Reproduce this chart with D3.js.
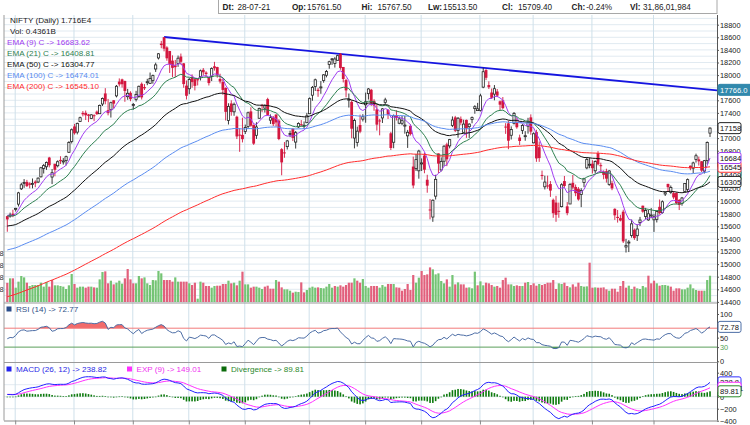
<!DOCTYPE html>
<html>
<head>
<meta charset="utf-8">
<script src="https://cdn.jsdelivr.net/npm/d3@7"></script>
<style>
  body { margin: 0; background: #fff; }
  svg text { font-family: "Liberation Sans", Arial, sans-serif; }
</style>
</head>
<body>
<div id="chart"></div>
<script>
// NIFTY daily, 28-07-21 .. 29-07-22
const tradingDays = [
  ["07-21", "28 29 30"],
  ["08-21", "02 03 04 05 06 09 10 11 12 13 16 17 18 20 23 24 25 26 27 30 31"],
  ["09-21", "01 02 03 06 07 08 09 13 14 15 16 17 20 21 22 23 24 27 28 29 30"],
  ["10-21", "01 04 05 06 07 08 11 12 13 14 18 19 20 21 22 25 26 27 28 29"],
  ["11-21", "01 02 03 04 08 09 10 11 12 15 16 17 18 22 23 24 25 26 29 30"],
  ["12-21", "01 02 03 06 07 08 09 10 13 14 15 16 17 20 21 22 23 24 27 28 29 30 31"],
  ["01-22", "03 04 05 06 07 10 11 12 13 14 17 18 19 20 21 24 25 27 28 31"],
  ["02-22", "01 02 03 04 07 08 09 10 11 14 15 16 17 18 21 22 23 24 25 28"],
  ["03-22", "02 03 04 07 08 09 10 11 14 15 16 17 21 22 23 24 25 28 29 30 31"],
  ["04-22", "01 04 05 06 07 08 11 12 13 18 19 20 21 22 25 26 27 28 29"],
  ["05-22", "02 04 05 06 09 10 11 12 13 16 17 18 19 20 23 24 25 26 27 30 31"],
  ["06-22", "01 02 03 06 07 08 09 10 13 14 15 16 17 20 21 22 23 24 27 28 29 30"],
  ["07-22", "01 04 05 06 07 08 11 12 13 14 15 18 19 20 21 22 25 26 27 28 29"]
];

// [open, high, low, close]
const ohlc = [
  [15761.5,15767.5,15513.5,15709.4],[15762,15817,15737,15778.45],[15800,15862.8,15744.85,15763.05],
  // Aug 21
  [15874.9,15892.9,15834.65,15885.15],[15951.55,16146.9,15914.35,16130.75],[16195.25,16290.2,16176.15,16258.8],
  [16288.9,16349.45,16210.3,16294.6],[16304.4,16336.75,16223.3,16238.2],[16281,16299,16202,16258.25],
  [16274,16359,16202,16280.1],[16309,16330,16220,16282.25],[16303,16376,16286,16364.4],
  [16385,16543,16376,16529.1],[16518,16589,16438,16563.05],[16545,16628,16495,16614.6],
  [16691,16701.85,16535,16568.85],[16382,16509,16270,16450.5],[16592,16592,16395,16496.45],
  [16561,16647,16535,16624.6],[16654,16712,16589,16634.65],[16627,16683,16580,16636.9],
  [16642,16722,16565,16705.2],[16775,16951,16764,16931.05],[16947,17153,16915,17132.2],
  // Sep 21
  [17185,17225,17055,17076.25],[17095,17245,17059,17234.15],[17262,17340,17255,17323.6],
  [17400,17429,17345,17377.8],[17401,17437,17287,17362.1],[17375,17383,17254,17353.5],
  [17312,17379,17302,17369.25],[17363,17378,17269,17355.3],[17420,17438,17368,17380],
  [17387,17532,17386,17519.45],[17541,17644,17510,17629.5],[17709,17792.95,17537,17585.15],
  [17443,17622,17361,17396.9],[17450,17578,17326,17562],[17600,17603,17472,17546.65],
  [17670,17843,17646,17822.95],[17897,17947.65,17819,17853.2],[17932,17943,17802,17855.1],
  [17906,17912,17576,17748.6],[17657,17781,17608,17711.3],[17719,17743,17585,17618.15],
  // Oct 21
  [17531,17557,17452,17532.05],[17615,17750,17581,17691.25],[17661,17833,17640,17822.3],
  [17862,17884,17613,17646],[17810,17857,17763,17790.35],[17886,17941,17840,17895.2],
  [17867,18041,17865,17945.95],[17915,18008,17864,17991.95],[18097,18197,18050,18161.75],
  [18272,18350,18248,18338.55],[18500,18543,18426,18477.05],[18602,18604.45,18377,18418.75],
  [18439,18458,18228,18266.6],[18382,18384,18034,18178.1],[18230,18314,17969,18114.9],
  [18154,18241,17968,18125.4],[18183,18310,18131,18268.4],[18295,18342,18167,18210.95],
  [18187,18190,17799,17857.25],[17833,17915,17613,17671.65],
  // Nov 21
  [17783,17954,17697,17929.65],[17970,18012,17800,17888.95],[17935,17947,17757,17829.2],
  [17935,17947,17836,17916.8],[17974,18087,17915,18068.55],[18084,18112,17994,18044.25],
  [18040,18061,17968,18017.2],[17967,17971,17835,17873.6],[17977,18123,17905,18102.75],
  [18140,18210,18071,18109.45],[18127,18132,17959,17999.2],[17939,18022,17867,17898.65],
  [17890,17945,17688,17764.8],[17796,17805,17280,17416.55],[17281,17553,17216,17503.35],
  [17550,17600,17355,17415.05],[17417,17564,17354,17536.25],[17339,17355,16985,17026.45],
  [17055,17160,16782,17053.95],[17051,17324,16931,16983.2],
  // Dec 21
  [17104,17214,17065,17166.9],[17183,17420,17150,17401.65],[17424,17490,17180,17196.7],
  [17209,17216,16892,16912.25],[17044,17252,16987,17176.7],[17315,17484,17308,17469.75],
  [17524,17543,17412,17516.85],[17476,17534,17406,17511.3],[17619,17640,17355,17368.25],
  [17284,17376,17225,17324.9],[17324,17351,17192,17221.4],[17373,17379,17184,17248.4],
  [17277,17298,16967,16985.2],[16824,16840,16410,16614.2],[16773,16937,16688,16770.85],
  [16865,16971,16819,16955.45],[17066,17118,17015,17072.6],[17149,17155,16953,17003.75],
  [16937,17112,16834,17086.25],[17177,17250,17162,17233.25],[17220,17286,17186,17213.6],
  [17202,17264,17146,17203.95],[17244,17400,17238,17354.05],
  // Jan 22
  [17387,17646,17383,17625.7],[17681,17827,17593,17805.25],[17820,17944,17748,17925.25],
  [17768,17797,17655,17745.9],[17797,17905,17704,17812.7],[17913,18017,17879,18003.3],
  [17997,18081,17964,18055.75],[18170,18228,18101,18212.35],[18257,18272,18163,18257.8],
  [18185,18286,18119,18255.75],[18235,18322,18228,18308.1],[18337,18350.95,18085,18113.05],
  [18129,18129,17884,17938.4],[17921,17943,17648,17757],[17613,17707,17485,17617.15],
  [17575,17599,16997,17149.1],[17001,17309,16837,17277.95],[16929,17182,16866,17110.15],
  [17208,17373,17077,17101.95],[17301,17380,17264,17339.85],
  // Feb 22
  [17529,17722,17244,17576.85],[17706,17794,17612,17780],[17767,17781,17511,17560.2],
  [17591,17617,17433,17516.3],[17456,17536,17119,17213.6],[17280,17306,17044,17266.75],
  [17320,17477,17240,17463.8],[17568,17640,17537,17605.85],[17451,17454,17303,17374.75],
  [17076,17099,16810,16842.8],[16934,17375,16839,17352.45],[17367,17442,17279,17322.2],
  [17236,17344,17220,17304.6],[17235,17351,17206,17276.3],[17193,17351,17070,17206.65],
  [17036,17130,16844,17092.2],[17194,17220,17041,17063.25],[16548,16706,16203,16247.95],
  [16515,16748,16478,16658.4],[16481,16815,16356,16793.9],
  // Mar 22
  [16593,16678,16478,16605.95],[16723,16768,16442,16498.05],[16339,16418,16133,16245.35],
  [15867,16034,15711,15863.15],[15747,16028,15671,16013.45],[16079,16418,16025,16345.35],
  [16757,16757,16447,16594.9],[16494,16694,16470,16630.45],[16633,16887,16555,16871.3],
  [16900,16927,16555,16663],[16876,16987,16837,16975.35],[17202,17344,17175,17287.05],
  [17329,17353,17096,17117.6],[17121,17334,17006,17315.5],[17305,17343,17209,17245.65],
  [17092,17292,17091,17222.75],[17289,17294,17004,17153],[17181,17235,17003,17222],
  [17297,17343,17235,17325.3],[17468,17522,17387,17498.25],[17436,17559,17435,17464.75],
  // Apr 22
  [17437,17704,17422,17670.45],[17809,18114.65,17792,18053.4],[18080,18095,17921,17957.4],
  [17842,17901,17779,17807.65],[17723,17787,17623,17639.55],[17698,17842,17600,17784.35],
  [17740,17779,17650,17674.95],[17584,17596,17442,17530.3],[17599,17652,17458,17475.65],
  [17183,17237,17067,17173.65],[17234,17275,16824,16958.65],[17045,17186,16978,17136.55],
  [17235,17414,17216,17392.6],[17242,17315,17149,17171.95],[17009,17055,16889,16953.95],
  [17121,17223,17064,17200.8],[17034,17110,16958,17038.4],[17189,17322,17071,17245.05],
  [17329,17377,17053,17102.55],
  // May 22
  [16925,17092,16917,17069.1],[17096,17132,16623,16677.6],[16855,16946,16623,16682.65],
  [16415,16484,16340,16411.25],[16227,16404,16185,16301.85],[16248,16404,16197,16240.05],
  [16270,16318,16067,16167.1],[16021,16041,15735,15808],[15977,16083,15671,15782.15],
  [15845,15977,15735,15842.3],[15912,16284,15900,16259.3],[16318,16399,16211,16240.3],
  [15917,15984,15775,15809.4],[15954,16284,15954,16266.15],[16290,16415,16185,16214.7],
  [16225,16263,16078,16125.15],[16196,16223,16007,16025.8],[16105,16204,15904,16170.15],
  [16296,16371,16221,16352.45],[16527,16695,16506,16661.4],[16578,16690,16521,16584.55],
  // Jun 22
  [16594,16649,16438,16522.75],[16481,16646,16443,16628],[16762,16793,16567,16584.3],
  [16570,16610,16444,16569.55],[16469,16487,16347,16416.35],[16474,16514,16294,16356.25],
  [16263,16492,16243,16478.1],[16284,16324,16173,16201.8],[15877,15886,15701,15774.4],
  [15750,15859,15659,15732.1],[15729,15783,15678,15692.15],[15832,15863,15335,15360.6],
  [15272,15401,15183.4,15293.5],[15335,15382,15191,15350.15],[15455,15707,15419,15638.8],
  [15545,15565,15385,15413.3],[15451,15628,15367,15556.65],[15657,15749,15604,15699.25],
  [15927,15928,15815,15832.05],[15757,15892,15710,15850.2],[15701,15861,15688,15799.1],
  [15774,15890,15728,15780.25],
  // Jul 22
  [15703,15793,15511,15752.05],[15710,15852,15661,15835.35],[15909,16025,15785,15810.85],
  [15818,16011,15800,15989.8],[16113,16150,16081,16132.9],[16273,16275,16157,16220.6],
  [16136,16248,16115,16216],[16126,16158,16031,16058.3],[16128,16140,15950,15966.65],
  [16018,16033,15858,15938.65],[15963,16066,15927,16049.2],[16151,16287,16142,16278.5],
  [16187,16359,16142,16340.55],[16562,16564,16490,16520.85],[16523,16626,16446,16605.25],
  [16661,16753,16611,16719.45],[16662,16706,16564,16631],[16632,16636,16462,16483.85],
  [16475,16653,16438,16641.8],[16642,16947,16581,16929.6],[17079,17172,17018,17158.25]
];

// volume, millions of shares
const volumes = [
  318.601984,393,393,238,338,432,409,321,266,282, 282,282,321,255,332,255,365,277,277,266,
  255,216,277,465,299,238,255,255,238,255, 255,243,238,376,498,509,310,354,293,321,
  354,304,393,548,376,310,310,432,393,409, 310,282,365,360,515,476,365,365,365,338,
  409,338,338,338,338,310,282,321,55,338, 321,266,266,238,266,271,271,299,299,354,
  310,321,277,
  354,504,293,293,238,255,255,238,216,255, 271,221,221,365,338,243,210,210,188,155,
  171,166,326,160,199,238,255,238,243,232, 227,255,299,238,266,255,277,255,282,321,
  321,393,354,321,382,266,238,266,266,266, 238,282,255,299,299,299,243,238,188,216,
  299,199,448,321,404,515,448,459,575,542, 459,476,349,310,376,255,448,293,326,293,
  293,238,243,227,504,277,
  343,277,321,310,282,255,266,238,365,404, 293,293,266,277,266,266,321,332,282,310,
  271,299,282,299,321,321,365,216,310,299, 321,266,243,293,255,321,266,255,260,653,
  238,243,238,238,243,210,188,221,221,171, 266,349,238,271,216,255,227,216,266,243,
  437,310,354,310,271,282,282,271,255,188, 227,227,210,210,238,293,227,199,188,188,
  188,365,436.1
];

const prevClose = 15746.45;        // 27-07-21 close
const emaPeriods = [9, 21, 50, 100, 200];
const emaSeeds = [15790, 15770, 15600, 15215, 14470];
const emaLast = [16683.62, 16408.81, 16304.77, 16474.01, 16545.10];
const rsiSeed = { gain: 50, loss: 52 };
const rsiLegend = "72.77", rsiBox = 72.78;
const macdSeeds = { fast: 15770, slow: 15725, signal: 40 };
const macdLast = { macd: 238.82, exp: 149.01, div: 89.81 };
const trendAnchors = ["19-10-21", "04-04-22"];
const trendLabel = 17766.0;
const priceTicks = d3.range(14400, 18801, 200);

// ---- derived series
const dates = tradingDays.flatMap(([my, days]) => days.split(" ").map(d => `${d}-${my}`));
const closes = ohlc.map(d => d[3]);

function ema(values, period, seed) {
  const k = 2 / (period + 1);
  let prev = seed;
  return values.map(v => (prev = prev + k * (v - prev)));
}
const emas = emaPeriods.map((p, j) => ema(closes, p, emaSeeds[j]));

let ag = rsiSeed.gain, al = rsiSeed.loss, pc = prevClose;
const rsi = closes.map(c => {
  const ch = c - pc; pc = c;
  ag = (ag * 13 + Math.max(ch, 0)) / 14;
  al = (al * 13 + Math.max(-ch, 0)) / 14;
  return 100 - 100 / (1 + ag / al);
});

const ema12 = ema(closes, 12, macdSeeds.fast);
const ema26 = ema(closes, 26, macdSeeds.slow);
const macd = ema12.map((v, i) => v - ema26[i]);
const signal = ema(macd, 9, macdSeeds.signal);
const diverg = macd.map((v, i) => v - signal[i]);

const monthStarts = dates.map((d, i) => i).filter(i => i > 0 && dates[i].slice(3) !== dates[i - 1].slice(3));

// ---- layout
const width = 750, height = 425;
const left = 4, right = 717;
const mainTop = 15, mainBot = 302.5, rsiBot = 362, macdBot = 420.5;

const x = d3.scaleLinear().domain([0, dates.length - 1]).range([7.3, 710]);
const yP = d3.scaleLinear().domain([14400, 18800]).range([301.9, 24.7]);
const yV = d3.scaleLinear().domain([0, 1000]).range([302, 241.8]);
const yR = d3.scaleLinear().domain([0, 100]).range([361.3, 314]);
const yM = d3.scaleLinear().domain([-400, 400]).range([420.7, 372.7]);

const svg = d3.select("#chart").append("svg")
    .attr("width", width)
    .attr("height", height);

const defs = svg.append("defs");
[["clipMain", mainTop, mainBot], ["clipRsi", mainBot + 0.5, rsiBot], ["clipMacd", rsiBot + 0.5, macdBot]]
  .forEach(([id, t, b]) => {
    defs.append("clipPath").attr("id", id).append("rect")
      .attr("x", left).attr("y", t).attr("width", right - left).attr("height", b - t);
  });

// ---- grid
const grid = svg.append("g");
grid.selectAll(".hp").data(d3.range(14400, 19000, 100)).join("line")
    .attr("x1", left).attr("x2", right)
    .attr("y1", d => yP(d)).attr("y2", d => yP(d))
    .attr("stroke", "#e1eaf1").attr("stroke-width", 1);
grid.selectAll(".hm").data([-200, 0, 200]).join("line")
    .attr("x1", left).attr("x2", right)
    .attr("y1", d => yM(d)).attr("y2", d => yM(d))
    .attr("stroke", "#e3eaf0");
grid.selectAll(".v").data(monthStarts).join("line")
    .attr("x1", d => x(d) - 0.5).attr("x2", d => x(d) - 0.5)
    .attr("y1", mainTop).attr("y2", macdBot)
    .attr("stroke", "#cfe0ea");

// ---- main panel
const main = svg.append("g").attr("clip-path", "url(#clipMain)");

// volume
main.selectAll(".vol").data(volumes).join("rect")
    .attr("x", (d, i) => x(i) - 1.1)
    .attr("y", d => yV(d))
    .attr("width", 2.2)
    .attr("height", d => yV(0) - yV(d))
    .attr("fill", (d, i) => closes[i] >= (i ? closes[i - 1] : prevClose) ? "#74c474" : "#e2607c");

// trend line
const ta = trendAnchors.map(dt => { const i = dates.indexOf(dt); return [i, ohlc[i][1]]; });
const slope = (ta[1][1] - ta[0][1]) / (ta[1][0] - ta[0][0]);
const iEnd = x.invert(right);
main.append("line")
    .attr("x1", x(ta[0][0])).attr("y1", yP(ta[0][1]))
    .attr("x2", x(iEnd)).attr("y2", yP(ta[0][1] + slope * (iEnd - ta[0][0])))
    .attr("stroke", "#1515e0").attr("stroke-width", 1.8);

// candles
const up = d => d[3] >= d[0];
const cg = main.append("g");
cg.selectAll("line").data(ohlc).join("line")
    .attr("x1", (d, i) => x(i)).attr("x2", (d, i) => x(i))
    .attr("y1", d => yP(d[1])).attr("y2", d => yP(d[2]))
    .attr("stroke", d => up(d) ? "#222" : "#d3173f")
    .attr("stroke-width", 0.9);
cg.selectAll("rect").data(ohlc).join("rect")
    .attr("x", (d, i) => x(i) - (up(d) ? 1.1 : 1.4))
    .attr("y", d => yP(Math.max(d[0], d[3])))
    .attr("width", d => up(d) ? 2.2 : 2.8)
    .attr("height", d => Math.max(1, Math.abs(yP(d[0]) - yP(d[3]))))
    .attr("fill", d => up(d) ? "#fff" : "#d3173f")
    .attr("stroke", d => up(d) ? "#222" : "none")
    .attr("stroke-width", 0.8);

// EMAs
const emaColors = ["#a03cf0", "#2e8050", "#111111", "#5a8cf0", "#ff2d2d"];
const priceLine = d3.line().x((d, i) => x(i)).y(d => yP(d));
emas.forEach((s, j) => {
  main.append("path").datum(s)
      .attr("fill", "none")
      .attr("stroke", emaColors[j])
      .attr("stroke-width", 1)
      .attr("d", priceLine);
});

// ---- RSI panel
const rp = svg.append("g").attr("clip-path", "url(#clipRsi)");
rp.append("path").datum(rsi)
    .attr("fill", "#f26b6b")
    .attr("d", d3.area().x((d, i) => x(i)).y0(yR(70)).y1(d => yR(Math.max(d, 70))));
rp.append("path").datum(rsi)
    .attr("fill", "#3f8f4f")
    .attr("d", d3.area().x((d, i) => x(i)).y0(yR(30)).y1(d => yR(Math.min(d, 30))));
rp.append("line").attr("x1", left).attr("x2", right).attr("y1", yR(70)).attr("y2", yR(70))
    .attr("stroke", "#f27a7a");
rp.append("line").attr("x1", left).attr("x2", right).attr("y1", yR(30)).attr("y2", yR(30))
    .attr("stroke", "#5b9f5b");
rp.append("path").datum(rsi)
    .attr("fill", "none").attr("stroke", "#4d6ea6").attr("stroke-width", 1)
    .attr("d", d3.line().x((d, i) => x(i)).y(d => yR(d)));

// ---- MACD panel
const mp = svg.append("g").attr("clip-path", "url(#clipMacd)");
mp.selectAll("rect").data(diverg).join("rect")
    .attr("x", (d, i) => x(i) - 0.8)
    .attr("y", d => Math.min(yM(0), yM(d)))
    .attr("width", 1.6)
    .attr("height", d => Math.max(0.6, Math.abs(yM(d) - yM(0))))
    .attr("fill", "#0d7a0d");
mp.append("path").datum(signal)
    .attr("fill", "none").attr("stroke", "#ff30ff").attr("stroke-width", 1)
    .attr("d", d3.line().x((d, i) => x(i)).y(d => yM(d)));
mp.append("path").datum(macd)
    .attr("fill", "none").attr("stroke", "#2222ff").attr("stroke-width", 1)
    .attr("d", d3.line().x((d, i) => x(i)).y(d => yM(d)));

// ---- frame & axes
const frame = svg.append("g").attr("stroke", "#9a9a9a").attr("fill", "none");
frame.append("line").attr("x1", left).attr("x2", left).attr("y1", mainTop).attr("y2", macdBot);
[mainBot + 0.5, rsiBot + 0.5].forEach(y => frame.append("line")
    .attr("x1", left).attr("x2", right).attr("y1", y).attr("y2", y));

svg.append("g")
    .attr("transform", `translate(0,${macdBot})`)
    .call(d3.axisBottom(x).tickValues(monthStarts).tickSize(4).tickFormat(""))
    .call(g => g.select(".domain").attr("d", `M${left},0.5H${right}`).attr("stroke", "#888"))
    .call(g => g.selectAll(".tick line").attr("stroke", "#888").attr("transform", "translate(-0.5,0)"));

function rightAxis(scale, ticks, top, bot) {
  const g = svg.append("g")
      .attr("transform", `translate(${right},0)`)
      .call(d3.axisRight(scale).tickValues(ticks).tickSize(2).tickPadding(1).tickFormat(d3.format("d")));
  g.select(".domain").attr("d", `M0.5,${top}V${bot}`).attr("stroke", "#555");
  g.selectAll(".tick line").attr("stroke", "#555");
  g.selectAll("text").attr("font-size", "7.4px").attr("fill", "#222")
      .attr("font-family", '"Liberation Sans", Arial, sans-serif');
  return g;
}
rightAxis(yP, priceTicks, mainTop, mainBot + 0.5);
const ra = rightAxis(yR, [0, 30, 50, 100], mainBot + 0.5, rsiBot + 0.5);
ra.selectAll("text").filter(d => d === 30).attr("fill", "#4f9f4f");
rightAxis(yM, [-400, -200, 0, 200, 400], rsiBot + 0.5, macdBot);

// value boxes on the right axis
function valueBox(y, text, stroke, fill, color, w) {
  const g = svg.append("g").attr("transform", `translate(${right + 1},${y})`);
  g.append("rect").attr("x", 0).attr("y", -5.5).attr("width", w || 23).attr("height", 11)
      .attr("rx", 2).attr("fill", fill).attr("stroke", stroke).attr("stroke-width", 1);
  g.append("text").attr("x", 2).attr("y", 2.8).attr("font-size", "7.6px")
      .attr("fill", color).text(text);
}
const box = v => d3.format(".0f")(v);
valueBox(yP(emaLast[3]), box(emaLast[3]), emaColors[3], "#fff", "#111");
valueBox(yP(emaLast[1]), box(emaLast[1]), emaColors[1], "#fff", "#111");
valueBox(yP(emaLast[2]), box(emaLast[2]), "#222", "#fff", "#111");
valueBox(yP(emaLast[4]), box(emaLast[4]), emaColors[4], "#fff", "#111");
valueBox(yP(emaLast[0]), box(emaLast[0]), emaColors[0], "#fff", "#111");
valueBox(yP(closes[closes.length - 1]), box(closes[closes.length - 1]), "#222", "#fff", "#111");
valueBox(yP(trendLabel), d3.format(".1f")(trendLabel), "#2f86aa", "#3189ad", "#fff", 40);
valueBox(yR(rsiBox), d3.format(".2f")(rsiBox), "#4d6ea6", "#fff", "#111");
valueBox(yM(macdLast.macd), d3.format(".1f")(macdLast.macd), "#3030ff", "#fff", "#111");
valueBox(yM(macdLast.exp), d3.format(".2f")(macdLast.exp), "#ff30ff", "#fff", "#111");
valueBox(yM(macdLast.div), d3.format(".2f")(macdLast.div), "#2a8a2a", "#fff", "#111");

// clipped volume scale labels at the far left
svg.append("g").selectAll("text").data([200, 400, 600, 800]).join("text")
    .attr("x", 3.5).attr("y", d => yV(d) + 2.5)
    .attr("text-anchor", "end").attr("font-size", "7.4px").attr("fill", "#333")
    .text(d => (d / 100).toFixed(1) + "E8");

// ---- header box
const first = ohlc[0];
function inr(n) {
  const s = String(Math.round(n));
  return s.slice(0, -3).replace(/\B(?=(\d{2})+(?!\d))/g, ",") + "," + s.slice(-3);
}
const header = [
  ["Dt:", dates[0], 222.5, 237.5],
  ["Op:", first[0].toFixed(2), 292, 307],
  ["Hi:", first[1].toFixed(2), 361.5, 377.5],
  ["Lw:", first[2].toFixed(2), 428, 443],
  ["Cl:", first[3].toFixed(2), 502, 518],
  ["Ch:", ((first[3] - prevClose) / prevClose * 100).toFixed(2) + "%", 571.5, 584],
  ["Vl:", inr(volumes[0] * 1e6), 630, 643]
];
svg.append("rect").attr("x", 218.5).attr("y", -1).attr("width", right - 218.5).attr("height", 14.5)
    .attr("fill", "#fff").attr("stroke", "#a8a8a8");
const hg = svg.append("g").attr("font-size", "8.2px").attr("fill", "#222");
header.forEach(([lab, val, x1, x2]) => {
  const t = hg.append("text").attr("x", x1).attr("y", 10).attr("font-weight", "bold").text(lab);
  const lw = t.node().getComputedTextLength();
  hg.append("text").attr("x", Math.max(x2, x1 + lw + 1)).attr("y", 10).text(val);
});

// ---- legends
const lg = svg.append("g").attr("font-size", "8.1px");
lg.append("text").attr("x", 10).attr("y", 23).attr("fill", "#222")
    .text("NIFTY (Daily) " + (closes[closes.length - 1] / 1e4).toFixed(3) + "E4");
lg.append("text").attr("x", 10).attr("y", 34).attr("fill", "#222")
    .text("Vol: " + (volumes[volumes.length - 1] / 1000).toFixed(4) + "B");
emaPeriods.forEach((p, j) => {
  lg.append("text").attr("x", 7).attr("y", 45 + j * 11).attr("fill", emaColors[j])
      .text(`EMA (${p}) C -> ${emaLast[j].toFixed(2)}`);
});

const sub = svg.append("g").attr("font-size", "8.1px");
function legendItem(xq, y, sq, color, text) {
  sub.append("rect").attr("x", xq).attr("y", y - 5.5).attr("width", 5).attr("height", 5).attr("fill", sq);
  sub.append("text").attr("x", xq + 9.5).attr("y", y).attr("fill", color).text(text);
}
legendItem(6.5, 312, "#2a4d8a", "#2f4f86", `RSI (14) -> ${rsiLegend}`);
legendItem(6.5, 372, "#2323ee", "#2a2ae6", `MACD (26, 12) -> ${macdLast.macd.toFixed(2)}`);
legendItem(127, 372, "#ff30ff", "#f030f0", `EXP (9) -> ${macdLast.exp.toFixed(2)}`);
legendItem(221.5, 372, "#0b6b0b", "#2d8a2d", `Divergence -> ${macdLast.div.toFixed(2)}`);
</script>
</body>
</html>
